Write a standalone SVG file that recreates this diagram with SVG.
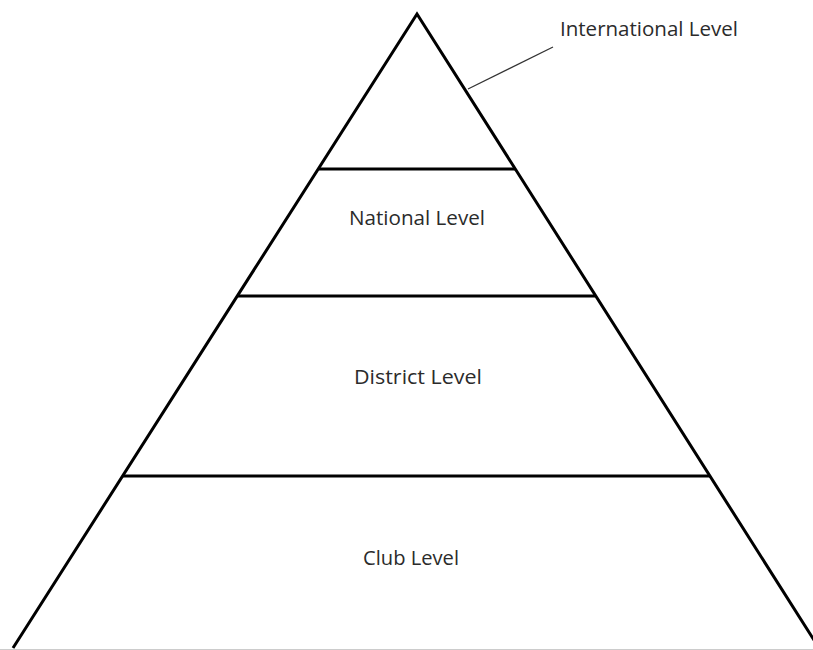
<svg xmlns="http://www.w3.org/2000/svg" width="813" height="650" viewBox="0 0 813 650">
<style>
.ln{stroke:#000;stroke-width:3;fill:none;stroke-linejoin:miter}
.lead{stroke:#333;stroke-width:1.3;fill:none}
.t{font-family:"Open Sans","Liberation Sans",sans-serif;font-size:20.5px;fill:#2b2b2b}
</style>
<rect width="813" height="650" fill="#fff"/>
<line x1="0" y1="649.5" x2="813" y2="649.5" stroke="#ccc" stroke-width="1"/>
<g id="pyramid">
<path class="ln" d="M13,648 L417,14 L819,648"/>
</g>
<g id="connectors">
<line class="ln" x1="319" y1="169" x2="515" y2="169"/>
<line class="ln" x1="238" y1="296" x2="595" y2="296"/>
<line class="ln" x1="123" y1="476" x2="710" y2="476"/>
<line class="lead" x1="468" y1="89" x2="553" y2="47"/>
</g>
<g id="international"><text class="t" x="560" y="36" textLength="178" lengthAdjust="spacingAndGlyphs">International Level</text></g>
<g id="national"><text class="t" x="349" y="225" textLength="136" lengthAdjust="spacingAndGlyphs">National Level</text></g>
<g id="district"><text class="t" x="354" y="384" textLength="128" lengthAdjust="spacingAndGlyphs">District Level</text></g>
<g id="club"><text class="t" x="363" y="565" textLength="96" lengthAdjust="spacingAndGlyphs">Club Level</text></g>
</svg>
